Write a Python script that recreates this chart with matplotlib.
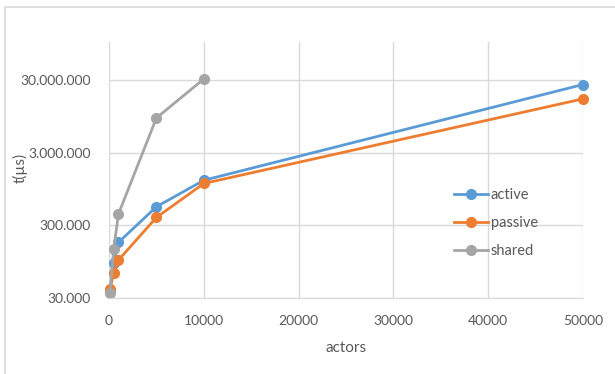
import matplotlib.pyplot as plt
from matplotlib.ticker import FixedLocator, FuncFormatter
from matplotlib.patches import Rectangle

# run times in microseconds for increasing numbers of actors
actors = [100, 500, 1000, 5000, 10000, 50000]
active = [38000, 91000, 175000, 540000, 1250000, 26000000]
passive = [40000, 66000, 100000, 385000, 1130000, 16500000]
shared_actors = [100, 500, 1000, 5000, 10000]
shared = [35000, 143000, 430000, 9000000, 31000000]

x_ticks = [0, 10000, 20000, 30000, 40000, 50000]
y_ticks = [30000, 300000, 3000000, 30000000]

text_col = '#595959'
grid_col = '#d9d9d9'

plt.rcParams['font.family'] = ['Lato', 'DejaVu Sans']

def dotted(v, pos):
    return f'{int(round(v)):,}'.replace(',', '.')

def main():
    fig = plt.figure(figsize=(6.15, 3.74), dpi=100)
    ax = fig.add_axes([109 / 615, 1 - 298 / 374, 474 / 615, 256 / 374])

    # chart area frame
    fig.patches.append(Rectangle((5 / 615, -0.01), 1.0, 1 - 7 / 374 + 0.01,
                                 transform=fig.transFigure, fill=False,
                                 edgecolor=grid_col, lw=1.2))

    ax.set_yscale('log')
    ax.set_xlim(0, 50000)
    ax.set_ylim(30000, 1e8)
    ax.xaxis.set_major_locator(FixedLocator(x_ticks))
    ax.yaxis.set_major_locator(FixedLocator(y_ticks))
    ax.yaxis.set_minor_locator(FixedLocator([]))
    ax.yaxis.set_major_formatter(FuncFormatter(dotted))
    ax.grid(True, color=grid_col, lw=1)
    ax.set_axisbelow(True)
    for s in ['top', 'right', 'left']:
        ax.spines[s].set_visible(False)
    ax.spines['bottom'].set_color(grid_col)
    ax.tick_params(axis='x', length=0, labelsize=10, colors=text_col, pad=12)
    ax.tick_params(axis='y', length=0, labelsize=10, colors=text_col, pad=13)

    kw = dict(lw=2, marker='o', ms=7, clip_on=False)
    ax.plot(actors, active, color='#5b9bd5', label='active', **kw)
    ax.plot(actors, passive, color='#ed7d31', label='passive', **kw)
    ax.plot(shared_actors, shared, color='#a5a5a5', label='shared', **kw)

    ax.set_xlabel('actors', fontsize=11, color=text_col, labelpad=10)
    ax.set_ylabel('t(µs)', fontsize=11, color=text_col)
    ax.yaxis.set_label_coords(-0.172, 0.51)

    leg = fig.legend(loc='center left', bbox_to_anchor=(441 / 615, 1 - 223 / 374),
                     frameon=False, fontsize=10.5, labelspacing=0.95,
                     handlelength=2.3, handletextpad=0.2)
    for t in leg.get_texts():
        t.set_color(text_col)

    fig.savefig('out.png', dpi=100)

if __name__ == '__main__':
    main()
